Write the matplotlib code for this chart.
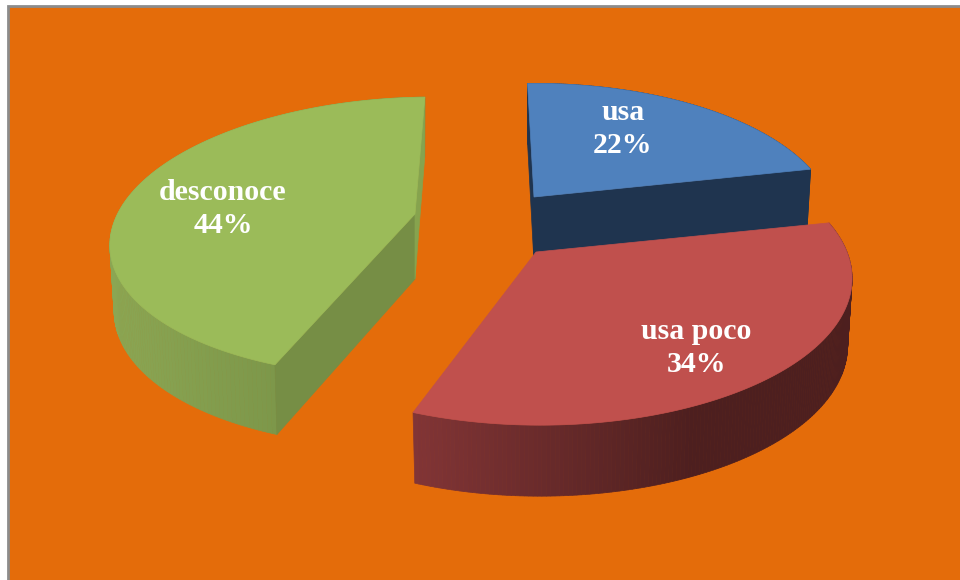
import numpy as np
import matplotlib
matplotlib.use('Agg')
import matplotlib.pyplot as plt
from matplotlib.colors import to_rgb
from matplotlib.patches import Polygon, Rectangle

# 数据
names = ['usa', 'usa poco', 'desconoce']
values = [22, 34, 44]
tops = ['#4F81BD', '#C0504D', '#9BBB59']
start_faces = ['#1F344F', None, '#768E45']     # 红色块的切面被顶面挡住
end_faces = ['#1F344F', None, '#86A34E']
rim_left = ['#1F344F', '#823536', '#8BA653']   # 外侧渐变
rim_right = ['#1F344F', '#4D1F1F', '#708A42']
rim_speed = [1, 1.55, 1]

# 每块的位置和投影参数
apex = [(534, 197), (536, 252), (415, 214)]
rim_dx = [0, 4, -2.5]
rx = [295, 307, 295]
ry = [136, 142, 136]
k = [0.197, 0.18, 0.163]
shear = [0, 0, 19]
depth = [66, 66, 65]
label_pos = [(623, 129), (696, 348), (223, 209)]
start = -1.5


def project(i, deg):
    t = np.radians(deg)
    u, v = np.sin(t), np.cos(t)
    s = 1 / (1 + k[i] * v)
    x = apex[i][0] + rim_dx[i] + rx[i] * u * s + shear[i] * v
    return x, apex[i][1] - ry[i] * v * s, v


def drop(i, x, y, v):
    # 向下拉出厚度,越靠后越薄,并略向内收
    return x + (apex[i][0] - x) * 0.014, y + depth[i] - 5 * v


fig, ax = plt.subplots(figsize=(9.6, 5.8), dpi=100)
fig.subplots_adjust(0, 0, 1, 1)
ax.set_xlim(0, 960)
ax.set_ylim(580, 0)
ax.axis('off')
fig.patch.set_facecolor('white')
ax.add_patch(Rectangle((7.5, 5.5), 1000, 1000, fc='#E46C0A', ec='#8C8C8C', lw=2))

edges = np.cumsum([0] + values) / sum(values) * 360 + start

for i in [0, 2, 1]:
    ang = np.linspace(edges[i], edges[i + 1], 181)
    x, y, v = project(i, ang)
    bx, by = drop(i, x, y, v)
    ox, oy = apex[i]
    oby = oy + depth[i]

    # 外侧面,用小块拼出渐变
    c0 = np.array(to_rgb(rim_left[i]))
    c1 = np.array(to_rgb(rim_right[i]))
    lo, hi = x.min(), x.max()
    for j in range(len(ang) - 1):
        f = min((x[j] - lo) / (hi - lo) * rim_speed[i], 1)
        c = c0 + (c1 - c0) * f
        ax.add_patch(Polygon([(x[j], y[j]), (x[j + 1], y[j + 1]),
                              (bx[j + 1], by[j + 1]), (bx[j], by[j])],
                             fc=c, ec=c, lw=0.5))

    # 两个切面
    for j, col in [(0, start_faces[i]), (-1, end_faces[i])]:
        if col is not None:
            ax.add_patch(Polygon([(ox, oy), (x[j], y[j]), (bx[j], by[j]), (ox, oby)],
                                 fc=col, ec=col, lw=0.5))

    # 顶面
    ax.add_patch(Polygon(np.column_stack([np.r_[ox, x], np.r_[oy, y]]),
                         fc=tops[i], ec=tops[i], lw=0.5))

for i in range(3):
    ax.text(label_pos[i][0], label_pos[i][1], f'{names[i]}\n{values[i]}%', color='white',
            family='Liberation Serif', fontweight='bold', fontsize=21.5, ha='center', va='center',
            linespacing=1.3)

fig.savefig('out.png', dpi=100)
